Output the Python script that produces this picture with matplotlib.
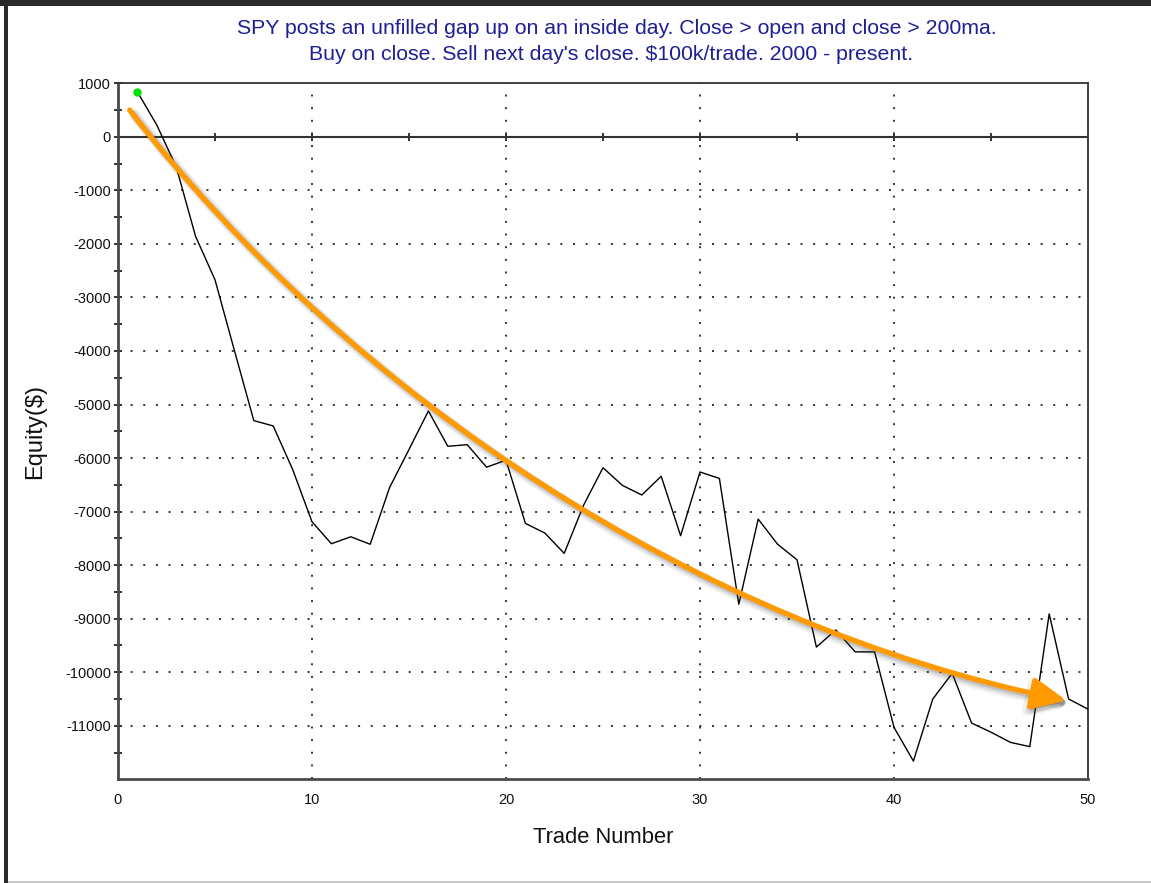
import matplotlib
matplotlib.use("Agg")
import matplotlib.pyplot as plt
from matplotlib.patches import FancyArrowPatch, Rectangle, ArrowStyle
from matplotlib.path import Path
from matplotlib.transforms import offset_copy

plt.rcParams['font.family'] = ['Liberation Sans', 'DejaVu Sans']

# ---- data ----
trades = list(range(1, 51))
equity = [840, 220, -560, -1860, -2670, -3990, -5300, -5400, -6210, -7190,
          -7600, -7470, -7610, -6550, -5840, -5120, -5780, -5750, -6170, -6040,
          -7220, -7400, -7780, -6880, -6180, -6510, -6690, -6340, -7450, -6260,
          -6380, -8730, -7140, -7610, -7900, -9530, -9210, -9620, -9620, -11030,
          -11660, -10500, -10020, -10950, -11120, -11310, -11390, -8910, -10500, -10690]
x_ticks = [0, 10, 20, 30, 40, 50]
y_ticks = list(range(-11000, 1001, 1000))
y_minor = list(range(-11500, 1000, 1000))
zero_line_ticks = [5, 10, 15, 20, 25, 30, 35, 40, 45]
# hand-drawn trend arrow (Bezier control points: start, c1, c2, tip)
arrow_pts = [(0.6, 500), (12, -4850), (30, -9150), (48.9, -10530)]

title1 = "SPY posts an unfilled gap up on an inside day. Close > open and close > 200ma."
title2 = "Buy on close. Sell next day's close. $100k/trade. 2000 - present."

W, H = 1151, 883
fig = plt.figure(figsize=(W / 100, H / 100), dpi=100)
fig.patch.set_facecolor('white')

ax = fig.add_axes([118 / W, 1 - 779.3 / H, (1088 - 118) / W, (779.3 - 83.3) / H])
ax.set_xlim(0, 50)
ax.set_ylim(-12000, 1000)

# grid
dot = (0, (1.0, 5.5))
for xv in x_ticks[1:-1]:
    ax.axvline(xv, color='#333333', lw=1.4, ls=dot, zorder=1)
for yv in y_ticks:
    if yv not in (0, 1000):
        ax.axhline(yv, color='#333333', lw=1.4, ls=dot, zorder=1)

# zero line with ticks
ax.axhline(0, color='#333333', lw=1.5, zorder=2)
ax.plot(zero_line_ticks, [0] * len(zero_line_ticks), ls='none', marker='|',
        markersize=6, markeredgewidth=1.4, color='#333333', zorder=2)

# equity line
ax.plot(trades, equity, color='black', lw=1.0, zorder=3)
ax.plot([trades[0]], [equity[0]], 'o', color='#00e000', markersize=5, zorder=4)

# trend arrow with soft shadow
codes = [Path.MOVETO, Path.CURVE4, Path.CURVE4, Path.CURVE4]
astyle = ArrowStyle('-|>', head_length=1.3, head_width=0.6)
for off, lw, alpha in [(5, 8, 0.08), (4, 6, 0.12), (3, 4, 0.18)]:
    sh = FancyArrowPatch(path=Path(arrow_pts, codes), arrowstyle=astyle,
                         mutation_scale=16, color='#444444', lw=lw, alpha=alpha,
                         transform=offset_copy(ax.transData, fig=fig, x=off, y=-off, units='dots'),
                         zorder=4.5)
    ax.add_patch(sh)
arr = FancyArrowPatch(path=Path(arrow_pts, codes), arrowstyle=astyle,
                      mutation_scale=16, color='#ff9a00', lw=3.8,
                      transform=ax.transData, zorder=5)
ax.add_patch(arr)

# spines
for s in ['left', 'bottom']:
    ax.spines[s].set_linewidth(2.0)
    ax.spines[s].set_color('#4a4a4a')
for s in ['top', 'right']:
    ax.spines[s].set_linewidth(1.3)
    ax.spines[s].set_color('#333333')

ax.set_xticks(x_ticks)
ax.set_xticklabels([str(v) for v in x_ticks])
ax.set_yticks(y_ticks)
ax.set_yticklabels([str(v) for v in y_ticks])
ax.set_yticks(y_minor, minor=True)
ax.tick_params(axis='y', which='both', direction='inout', length=6, width=1.4,
               color='#333333', labelsize=10.5, pad=2, labelcolor='#111111')
ax.tick_params(axis='x', which='both', length=0, labelsize=10.5, pad=10, labelcolor='#111111')

ax.set_xlabel('Trade Number', fontsize=15.8, color='#111111', labelpad=14)
ax.set_ylabel('Equity($)', fontsize=17, color='#111111', labelpad=11)
ax.yaxis.set_label_coords(-0.074, 0.50)

# title
fig.text(617 / W, 1 - 28 / H, title1, ha='center', va='center', fontsize=15.3, color='#1f1f94')
fig.text(611 / W, 1 - 54 / H, title2, ha='center', va='center', fontsize=15.3, color='#1f1f94')

# window frame
fig.patches.append(Rectangle((4 / W, 0), 4 / W, 1, transform=fig.transFigure,
                             facecolor='#2a2a2a', edgecolor='none', figure=fig))
fig.patches.append(Rectangle((0, 1 - 6 / H), 1, 6 / H, transform=fig.transFigure,
                             facecolor='#2a2a2a', edgecolor='none', figure=fig))
fig.patches.append(Rectangle((8 / W, 0), 1, 2 / H, transform=fig.transFigure,
                             facecolor='#c8c8c8', edgecolor='none', figure=fig))

fig.savefig('out.png', dpi=100, facecolor='white')
